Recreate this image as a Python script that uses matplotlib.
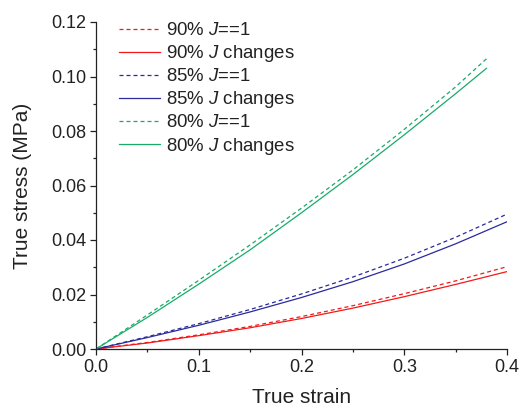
import numpy as np
import matplotlib
matplotlib.use("Agg")
import matplotlib.pyplot as plt
from matplotlib.ticker import MultipleLocator, FormatStrFormatter

plt.rcParams["font.family"] = "Liberation Sans"
plt.rcParams["mathtext.fontset"] = "custom"
plt.rcParams["mathtext.it"] = "Liberation Sans:italic"
plt.rcParams["mathtext.rm"] = "Liberation Sans"

# strain values
strain = [0.0, 0.05, 0.10, 0.15, 0.20, 0.25, 0.30, 0.35, 0.40]
strain_80 = [0.0, 0.05, 0.10, 0.15, 0.20, 0.25, 0.30, 0.35, 0.38]

s90_j1 = [0.0, 0.0024, 0.0052, 0.0083, 0.0119, 0.0159, 0.0203, 0.0250, 0.0302]
s90_jc = [0.0, 0.0022, 0.0049, 0.0078, 0.0112, 0.0150, 0.0192, 0.0237, 0.0284]
s85_j1 = [0.0, 0.0045, 0.0093, 0.0145, 0.0202, 0.0264, 0.0333, 0.0410, 0.0495]
s85_jc = [0.0, 0.0042, 0.0087, 0.0136, 0.0189, 0.0247, 0.0312, 0.0386, 0.0467]
s80_j1 = [0.0, 0.0125, 0.0252, 0.0382, 0.0517, 0.0657, 0.0806, 0.0962, 0.1065]
s80_jc = [0.0, 0.0116, 0.0238, 0.0364, 0.0500, 0.0640, 0.0786, 0.0937, 0.1030]

RED = "#f21a1a"
BLUE = "#2a2a9c"
GREEN = "#1aab6b"

fig = plt.figure(figsize=(5.23, 4.09), dpi=100)
ax = fig.add_axes([96 / 523, 1 - 349 / 409, 411 / 523, 327 / 409])

dash = (0, (3.2, 2.4))
lw = 0.9
ax.plot(strain, s90_j1, color=RED, ls=dash, lw=lw, label=r"90% $J$==1")
ax.plot(strain, s90_jc, color=RED, ls="-", lw=lw, label=r"90% $J$ changes")
ax.plot(strain, s85_j1, color=BLUE, ls=dash, lw=lw, label=r"85% $J$==1")
ax.plot(strain, s85_jc, color=BLUE, ls="-", lw=lw, label=r"85% $J$ changes")
ax.plot(strain_80, s80_j1, color=GREEN, ls=dash, lw=lw, label=r"80% $J$==1")
ax.plot(strain_80, s80_jc, color=GREEN, ls="-", lw=lw, label=r"80% $J$ changes")

ax.set_xlim(0, 0.4)
ax.set_ylim(0, 0.12)
ax.xaxis.set_major_locator(MultipleLocator(0.1))
ax.xaxis.set_minor_locator(MultipleLocator(0.05))
ax.yaxis.set_major_locator(MultipleLocator(0.02))
ax.yaxis.set_minor_locator(MultipleLocator(0.01))
ax.xaxis.set_major_formatter(FormatStrFormatter("%.1f"))
ax.yaxis.set_major_formatter(FormatStrFormatter("%.2f"))

for s in ["top", "right"]:
    ax.spines[s].set_visible(False)
for s in ["left", "bottom"]:
    ax.spines[s].set_linewidth(0.9)
    ax.spines[s].set_color("#222222")

ax.tick_params(which="major", direction="out", length=4, width=0.9,
               labelsize=13, pad=3, colors="#222222")
ax.tick_params(which="minor", direction="out", length=2.5, width=0.9,
               colors="#222222")

ax.set_xlabel("True strain", fontsize=15, color="#222222", labelpad=9)
ax.set_ylabel("True stress (MPa)", fontsize=15, color="#222222", labelpad=14)

leg = ax.legend(loc="upper left", bbox_to_anchor=(0.055, 1.0), frameon=False,
                fontsize=13.4, handlelength=2.2, handletextpad=0.33,
                labelspacing=0.22, borderpad=0, borderaxespad=0)
for t in leg.get_texts():
    t.set_color("#222222")

fig.savefig("out.png", dpi=100)
